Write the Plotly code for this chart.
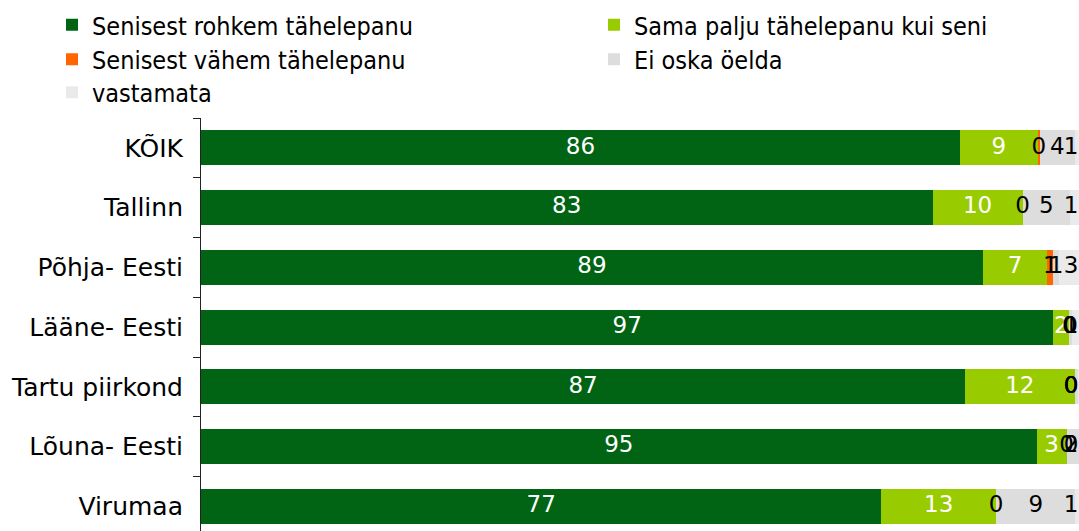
import plotly.graph_objects as go

categories = ["KÕIK", "Tallinn", "Põhja- Eesti", "Lääne- Eesti", "Tartu piirkond", "Lõuna- Eesti", "Virumaa"]
series_names = ["Senisest rohkem tähelepanu", "Sama palju tähelepanu kui seni",
                "Senisest vähem tähelepanu", "Ei oska öelda", "vastamata"]
rohkem = [86.0, 82.9, 88.6, 96.6, 86.6, 94.7, 77.1]
sama = [8.8, 10.2, 7.3, 1.8, 12.4, 3.4, 13.0]
vahem = [0.3, 0.0, 0.7, 0.0, 0.0, 0.0, 0.0]
ei_oska = [3.9, 5.4, 0.6, 0.3, 0.4, 1.6, 9.0]
vastamata = [1.0, 1.4, 2.8, 1.3, 0.4, 0.3, 0.9]

series_values = [rohkem, sama, vahem, ei_oska, vastamata]
colors = ["#006414", "#99CC00", "#FF6600", "#DDDDDD", "#EAEAEA"]
label_colors = ["white", "white", "black", "black", "black"]

FONT = "DejaVu Sans"
LEGEND_FONT = "DejaVu Sans Condensed, DejaVu Sans"
X_MAX = 99.5
LABEL_MAX = 98.6
W, H = 1079, 531

# legend entry placement (pixels): (x of legend box, row centre)
legend_pos = [(52, 25), (594, 25), (52, 59.5), (594, 59.5), (52, 92.5)]
legend_ids = ["legend", "legend2", "legend3", "legend4", "legend5"]

fig = go.Figure()
for name, vals, col, lid in zip(series_names, series_values, colors, legend_ids):
    fig.add_trace(go.Bar(
        y=categories, x=vals, name=name, orientation="h",
        marker=dict(color=col, line=dict(width=0)),
        hoverinfo="x+name", legend=lid,
    ))

# data labels (centered in each segment, kept inside the chart like Excel)
cum = [0.0] * len(categories)
for vals, lc in zip(series_values, label_colors):
    xs = []
    for i, v in enumerate(vals):
        xs.append(min(cum[i] + v / 2, LABEL_MAX))
        cum[i] += v
    fig.add_trace(go.Scatter(
        x=xs, y=categories, mode="text",
        text=[f"{v:.0f}" for v in vals],
        textfont=dict(family=FONT, size=23, color=lc),
        textposition="middle center",
        showlegend=False, hoverinfo="skip", cliponaxis=False,
    ))

legends = {}
for lid, (px, py) in zip(legend_ids, legend_pos):
    legends[lid] = dict(
        orientation="h", xref="container", yref="container",
        x=px / W, xanchor="left", y=1 - py / H, yanchor="middle",
        itemwidth=30, font=dict(family=LEGEND_FONT, size=25, color="black"),
        bgcolor="rgba(0,0,0,0)", borderwidth=0,
    )

fig.update_layout(
    width=W, height=H,
    barmode="stack", bargap=0.415,
    plot_bgcolor="white", paper_bgcolor="white",
    margin=dict(l=201, r=0, t=118, b=0, autoexpand=False),
    font=dict(family=FONT, size=25, color="black"),
    showlegend=True,
    xaxis=dict(range=[0, X_MAX], showgrid=False, zeroline=False,
               showticklabels=False, showline=False, ticks=""),
    yaxis=dict(categoryorder="array", categoryarray=categories,
               range=[6.41, -0.5], showgrid=False, zeroline=False,
               showline=True, linecolor="#222222", linewidth=1,
               ticks="outside", tickson="boundaries", ticklen=7,
               tickcolor="#222222", ticklabelstandoff=12,
               tickfont=dict(family=FONT, size=25, color="black")),
    **legends,
)

fig.write_html(
    "out.html",
    config={"displayModeBar": False},
    post_script="document.body.style.margin='0';document.body.style.overflow='hidden';",
)
